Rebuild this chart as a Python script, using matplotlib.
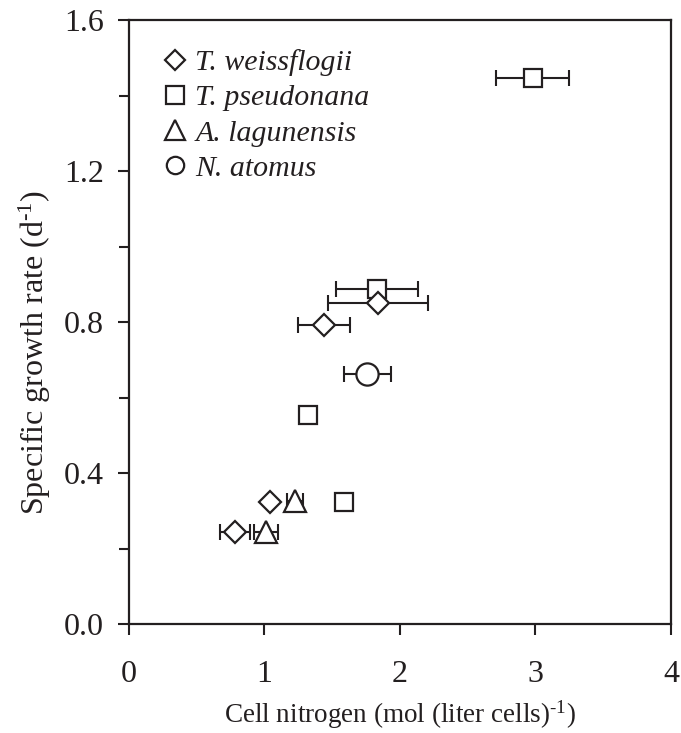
import matplotlib
matplotlib.use("Agg")
import matplotlib.pyplot as plt
from matplotlib.lines import Line2D
from matplotlib.ticker import MultipleLocator

plt.rcParams['font.family'] = ['Liberation Serif', 'DejaVu Serif']
plt.rcParams['mathtext.fontset'] = 'custom'
plt.rcParams['mathtext.rm'] = 'Liberation Serif'
plt.rcParams['mathtext.it'] = 'Liberation Serif:italic'

# Data
tw_x = [0.78, 1.04, 1.44, 1.84]
tw_y = [0.245, 0.322, 0.792, 0.850]
tw_xerr = [0.11, 0.0, 0.19, 0.37]

tp_x = [1.32, 1.59, 1.83, 2.98]
tp_y = [0.554, 0.324, 0.887, 1.446]
tp_xerr = [0.02, 0.02, 0.30, 0.27]

al_x = [1.01, 1.225]
al_y = [0.245, 0.325]
al_xerr = [0.09, 0.06]

na_x = [1.76]
na_y = [0.661]
na_xerr = [0.17]

species = ["T. weissflogii", "T. pseudonana", "A. lagunensis", "N. atomus"]
x_ticks = [0, 1, 2, 3, 4]
y_ticks = [0.0, 0.4, 0.8, 1.2, 1.6]

C = '#231f20'
fig = plt.figure(figsize=(6.81, 7.33), dpi=100)
ax = fig.add_axes([0.1894, 0.1487, 0.7959, 0.824])

series = [
    (tp_x, tp_y, tp_xerr, 's', 13),
    (tw_x, tw_y, tw_xerr, 'D', 11),
    (al_x, al_y, al_xerr, '^', 16),
    (na_x, na_y, na_xerr, 'o', 16),
]
for x, y, xe, m, ms in series:
    ax.errorbar(x, y, xerr=xe, fmt='none', ecolor=C, elinewidth=1.5,
                capsize=5.5, capthick=1.5, zorder=2)
for x, y, xe, m, ms in series:
    ax.plot(x, y, linestyle='none', marker=m, markersize=ms,
            markerfacecolor='white', markeredgecolor=C, markeredgewidth=1.6,
            zorder=3)

ax.set_xlim(0, 4)
ax.set_ylim(0, 1.6)
ax.set_xticks(x_ticks)
ax.set_xticklabels([str(t) for t in x_ticks])
ax.set_yticks(y_ticks)
ax.set_yticklabels([f"{t:.1f}" for t in y_ticks])
ax.yaxis.set_minor_locator(MultipleLocator(0.2))
ax.tick_params(axis='both', which='major', direction='out', length=8,
               width=1.5, color=C, labelsize=23, labelcolor=C)
ax.tick_params(axis='y', which='minor', direction='out', length=7,
               width=1.5, color=C)
ax.tick_params(axis='y', pad=10)
ax.tick_params(axis='x', pad=18)
for s in ax.spines.values():
    s.set_linewidth(1.6)
    s.set_color(C)

ax.set_xlabel("Cell nitrogen (mol (liter cells)$^{\u2010\\mathrm{1}}$)", fontsize=19.5,
              color=C, labelpad=7)
ax.set_ylabel("Specific growth rate (d$^{\u2010\\mathrm{1}}$)", fontsize=23,
              color=C)
ax.yaxis.set_label_coords(-0.14, 0.45)

handles = []
for (x, y, xe, m, ms), lab in zip(
        [series[1], series[0], series[2], series[3]], species):
    lm = {'D': 10, 's': 13, '^': 14.5, 'o': 12.5}[m]
    handles.append(Line2D([], [], linestyle='none', marker=m, markersize=lm,
                          markerfacecolor='white', markeredgecolor=C,
                          markeredgewidth=1.6, label=lab))
leg = ax.legend(handles=handles, loc='upper left', frameon=False,
                prop={'style': 'italic', 'size': 21.5}, handlelength=0.8,
                handletextpad=0.3, labelspacing=0.28,
                borderaxespad=0.0, borderpad=0.0,
                bbox_to_anchor=(0.062, 0.952))
for t in leg.get_texts():
    t.set_color(C)

fig.savefig("out.png", dpi=100)
